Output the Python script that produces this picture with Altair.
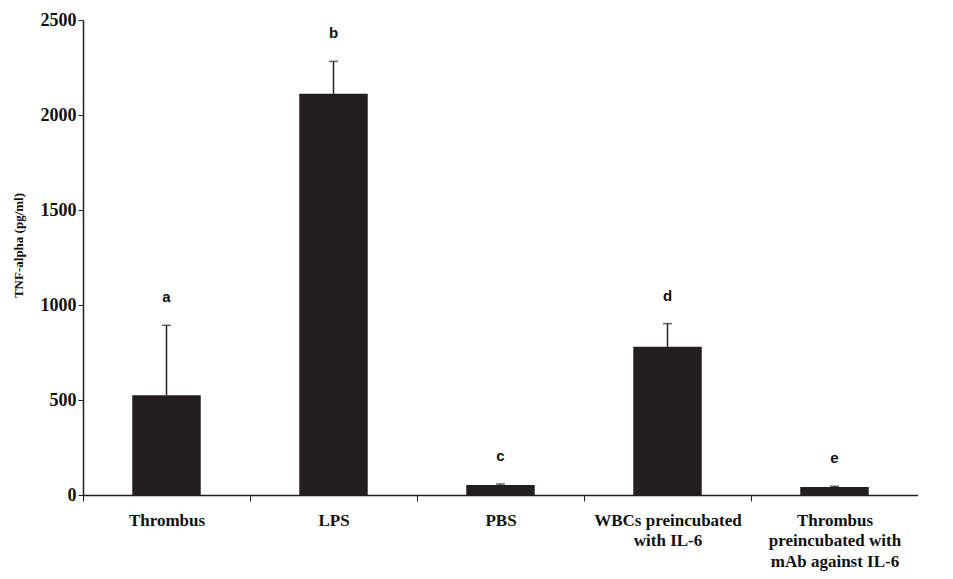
import altair as alt
import pandas as pd

categories = ["Thrombus", "LPS", "PBS", "WBCs preincubated|with IL-6",
              "Thrombus|preincubated with|mAb against IL-6"]
values = [525, 2112, 53, 780, 42]
upper = [893, 2282, 58, 902, 46]
letters = ["a", "b", "c", "d", "e"]

df = pd.DataFrame({"cat": categories, "value": values, "upper": upper, "letter": letters})

W, H = 835, 475
ink = "#231f20"

x = alt.X("cat:N", sort=categories, title=None,
          scale=alt.Scale(paddingInner=0, paddingOuter=0),
          axis=alt.Axis(tickBand="extent", labelExpr="split(datum.label, '|')",
                        labelAngle=0, labelFont="Liberation Serif", labelFontWeight="bold",
                        labelFontSize=17, labelColor="#111", labelPadding=11,
                        labelLineHeight=20.5, tickSize=6, tickColor=ink, domainColor=ink,
                        domainWidth=1.5, labelBaseline="top", labelLimit=300))
y = alt.Y("value:Q", title="TNF-alpha (pg/ml)",
          scale=alt.Scale(domain=[0, 2500], nice=False),
          axis=alt.Axis(values=[0, 500, 1000, 1500, 2000, 2500], grid=False, format="d",
                        labelFont="Liberation Serif", labelFontWeight="bold", labelFontSize=18,
                        labelColor="#111", titleFont="Liberation Serif", titleFontWeight="bold",
                        titleFontSize=13, titleColor="#111", tickSize=5, tickColor=ink,
                        domainColor=ink, domainWidth=1.5, titleX=-65, titleY=225,
                        titleBaseline="middle"))

base = alt.Chart(df)
bars = base.mark_bar(color=ink, width=alt.RelativeBandSize(0.41)).encode(x=x, y=y)
err = base.mark_rule(color=ink, strokeWidth=1.5).encode(x=x, y="value:Q", y2="upper:Q")
cap = base.mark_tick(color=ink, orient="horizontal", size=9, thickness=1.5).encode(x=x, y="upper:Q")
txt = base.mark_text(font="Liberation Sans", fontWeight="bold", fontSize=15, color="#111",
                     dy=-28, baseline="middle").encode(x=x, y="upper:Q", text="letter:N")
extend = alt.Chart(pd.DataFrame({"v": [0]})).mark_rule(color=ink, strokeWidth=1.5).encode(
    x=alt.value(W), x2=alt.value(W + 35), y=alt.value(H))

chart = (bars + err + cap + txt + extend).properties(
    width=W, height=H,
    autosize=alt.AutoSizeParams(type="none"),
    padding={"left": 75, "top": 12, "right": 0, "bottom": 76},
).configure(background="white").configure_view(stroke=None)

chart.save("out.html", embed_options={"renderer": "svg", "actions": False})
